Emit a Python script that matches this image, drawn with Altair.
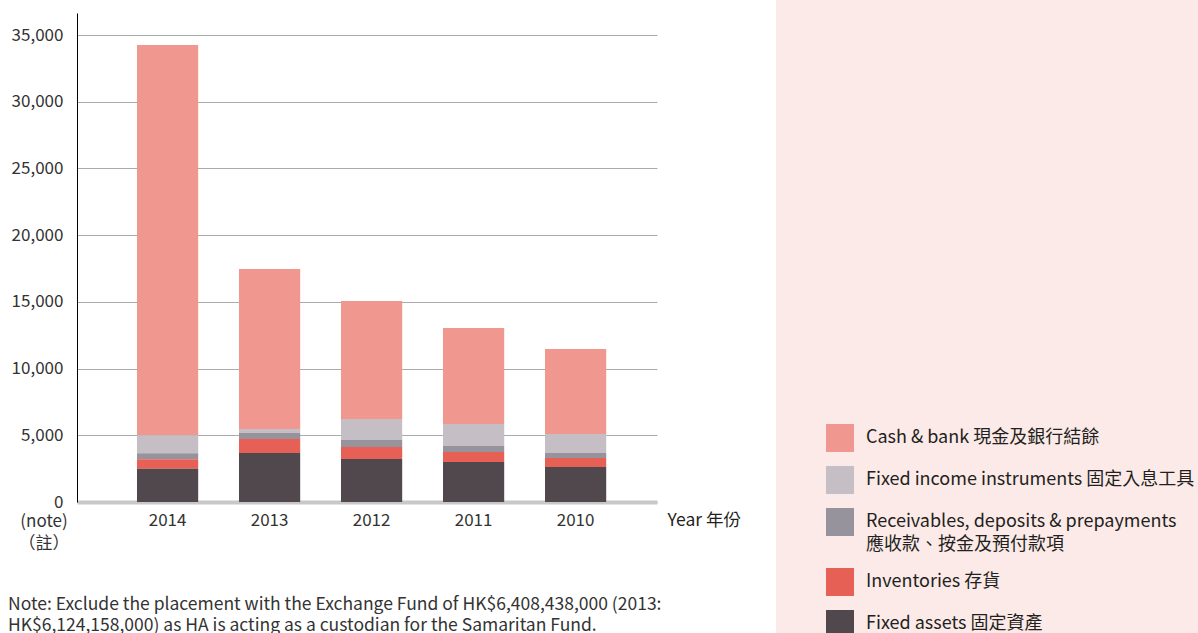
import altair as alt
import pandas as pd

FONT = "Noto Sans CJK TC"

years = ["2014", "2013", "2012", "2011", "2010"]
categories = [
    "Cash & bank 現金及銀行結餘",
    "Fixed income instruments 固定入息工具",
    "Receivables, deposits & prepayments\n應收款、按金及預付款項",
    "Inventories 存貨",
    "Fixed assets 固定資產",
]
colors = ["#f09890", "#c5bfc5", "#96939d", "#e66055", "#51484e"]
cash = [29250, 12000, 8850, 7190, 6370]
fixed_income = [1350, 300, 1570, 1650, 1430]
receivables = [450, 450, 530, 450, 370]
inventories = [700, 1050, 900, 750, 680]
fixed_assets = [2500, 3670, 3220, 3000, 2620]
y_ticks = [0, 5000, 10000, 15000, 20000, 25000, 30000, 35000]
note_text = [
    "Note: Exclude the placement with the Exchange Fund of HK$6,408,438,000 (2013:",
    "HK$6,124,158,000) as HA is acting as a custodian for the Samaritan Fund.",
]
zero_note = ["(note)", "（註）"]

series = [cash, fixed_income, receivables, inventories, fixed_assets]
rows = []
for ci, (cat, vals) in enumerate(zip(categories, series)):
    for y, v in zip(years, vals):
        rows.append({"year": y, "category": cat, "value": v, "order": 4 - ci})
df = pd.DataFrame(rows)

one = pd.DataFrame({"a": [1]})

panel = alt.Chart(one).mark_rect(color="#fbeae8").encode(
    x=alt.value(699), x2=alt.value(1130), y=alt.value(-20), y2=alt.value(640)
)

bars = alt.Chart(df).mark_bar().encode(
    x=alt.X(
        "year:N",
        sort=years,
        scale=alt.Scale(paddingInner=0.4, paddingOuter=0.543, align=0.5415),
        axis=alt.Axis(
            title="Year 年份",
            titleX=590,
            titleY=18,
            titleAlign="left",
            titleBaseline="middle",
            titleAngle=0,
            titleFont=FONT,
            titleFontSize=17.5,
            titleFontWeight="normal",
            titleColor="#231f20",
            labelFont=FONT,
            labelFontSize=17,
            labelColor="#333333",
            labelPadding=10,
            labelAngle=0,
            ticks=False,
            domainColor="#c8c8c8",
            domainWidth=4,
            grid=False,
        ),
    ),
    y=alt.Y(
        "value:Q",
        stack="zero",
        scale=alt.Scale(domain=[0, 36650], nice=False),
        axis=alt.Axis(
            title=None,
            values=y_ticks,
            format=",d",
            labelFont=FONT,
            labelFontSize=17,
            labelColor="#333333",
            labelPadding=14,
            ticks=False,
            domainColor="#000000",
            domainWidth=1,
            grid=True,
            gridColor="#aaaaaa",
            gridWidth=1,
        ),
    ),
    color=alt.Color(
        "category:N",
        scale=alt.Scale(domain=categories, range=colors),
        legend=alt.Legend(
            orient="none",
            legendX=749,
            legendY=411,
            title=None,
            padding=0,
            symbolType="square",
            symbolSize=784,
            symbolStrokeWidth=0,
            symbolOpacity=1,
            labelFont=FONT,
            labelFontSize=18,
            labelColor="#231f20",
            labelOffset=12,
            labelLimit=1000,
            rowPadding=14,
            labelExpr="split(datum.label, '\\n')",
        ),
    ),
    order=alt.Order("order:Q", sort="ascending"),
)

zero_df = pd.DataFrame({"t": [zero_note]})
zero_txt = alt.Chart(zero_df).mark_text(
    font=FONT, fontSize=17, color="#333333", align="center", baseline="top", lineHeight=22
).encode(text="t", x=alt.value(-33), y=alt.value(501))

note_df = pd.DataFrame({"t": [note_text]})
note = alt.Chart(note_df).mark_text(
    font=FONT, fontSize=17.5, color="#333333", align="left", baseline="top", lineHeight=21
).encode(text="t", x=alt.value(-69), y=alt.value(583))

chart = (
    alt.layer(panel, bars, zero_txt, note)
    .properties(
        width=580,
        height=489,
        autosize=alt.AutoSizeParams(type="none"),
        padding={"left": 77, "top": 13, "right": 541, "bottom": 131},
    )
    .configure(
        background="white",
        view=alt.ViewConfig(stroke=None),
        style={"guide-label": {"lineHeight": 23}},
    )
)

chart.save("out.html", embed_options={"renderer": "svg", "actions": False})
